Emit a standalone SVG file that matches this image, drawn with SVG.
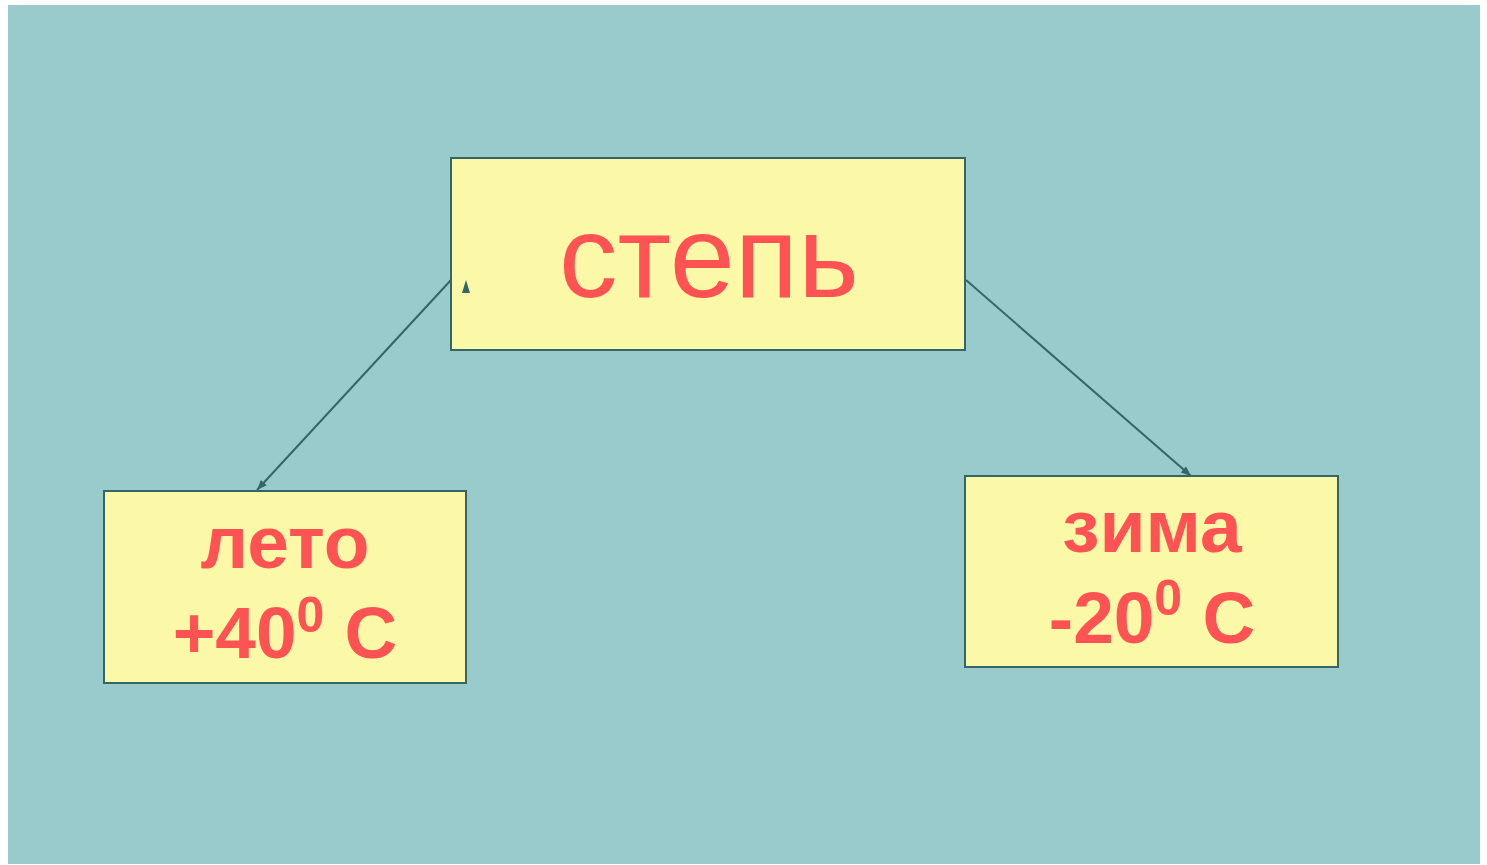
<svg xmlns="http://www.w3.org/2000/svg" width="1487" height="865" viewBox="0 0 1487 865">
<defs>
<style>
.box{fill:#FBF9A7;stroke:#336666;stroke-width:2}
.t{fill:#FF5252;font-family:"Liberation Sans",Arial,sans-serif;text-anchor:middle}
.b{font-weight:bold;font-size:75px}
.b2{font-weight:bold;font-size:73px}
.conn{stroke:#336666;stroke-width:2;fill:none}
</style>
<marker id="ah" viewBox="0 0 10 10" refX="10" refY="5" markerWidth="11" markerHeight="10" markerUnits="userSpaceOnUse" orient="auto">
<path d="M0,1 L10,5 L0,9 z" fill="#336666"/>
</marker>
</defs>
<rect width="1487" height="865" fill="#ffffff"/>
<rect x="8" y="5" width="1472" height="859" fill="#99CBCC"/>
<g id="connectors">
<line class="conn" x1="451" y1="280" x2="257" y2="490" marker-end="url(#ah)"/>
<line class="conn" x1="966" y1="280" x2="1191" y2="476" marker-end="url(#ah)"/>
</g>
<g id="node-step">
<rect class="box" x="451" y="158" width="514" height="192"/>
<text class="t" x="709" y="297" font-size="117">степь</text>
<polygon points="462,293 466,280 470,293" fill="#336666"/>
</g>
<g id="node-leto">
<rect class="box" x="104" y="491" width="362" height="192"/>
<text class="t b" x="285" y="568">лето</text>
<text class="t b2" x="285" y="658">+40<tspan font-size="50" dy="-26">0</tspan><tspan dy="26"> C</tspan></text>
</g>
<g id="node-zima">
<rect class="box" x="965" y="476" width="373" height="191"/>
<text class="t b" x="1152" y="552">зима</text>
<text class="t b2" x="1152" y="643">-20<tspan font-size="50" dy="-28">0</tspan><tspan dy="28"> C</tspan></text>
</g>
</svg>
